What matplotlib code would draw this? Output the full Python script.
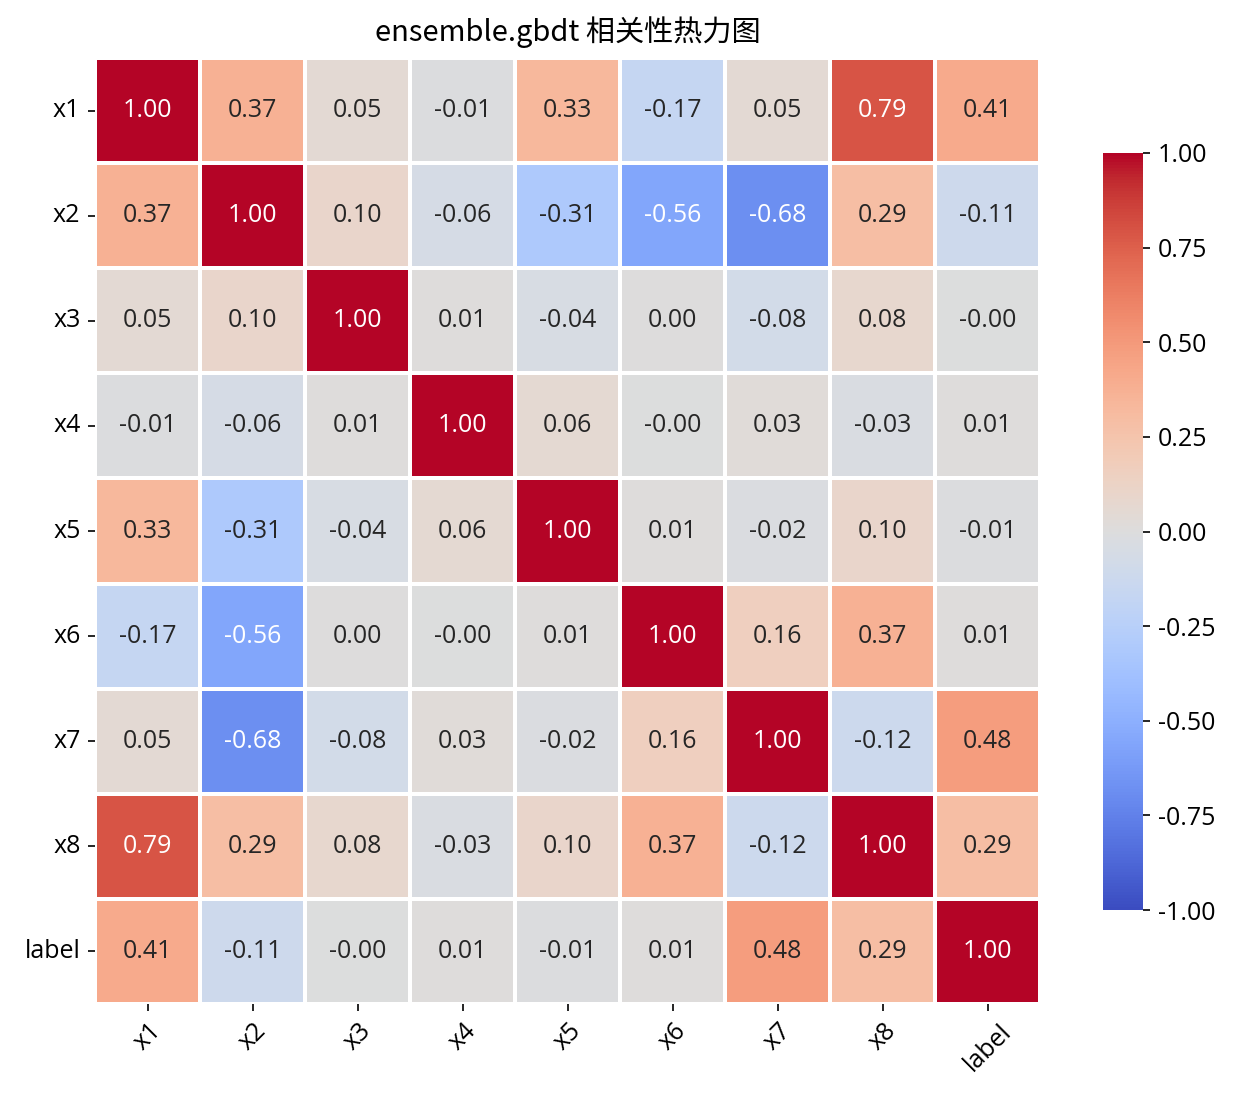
import numpy as np
import pandas as pd
import matplotlib
matplotlib.use("Agg")
import matplotlib.pyplot as plt
import seaborn as sns

labels = ["x1", "x2", "x3", "x4", "x5", "x6", "x7", "x8", "label"]

# upper triangle of the correlation matrix, row by row
row_x1 = [1.00, 0.37, 0.05, -0.01, 0.33, -0.17, 0.05, 0.79, 0.41]
row_x2 = [1.00, 0.10, -0.06, -0.31, -0.56, -0.68, 0.29, -0.11]
row_x3 = [1.00, 0.01, -0.04, 0.001, -0.08, 0.08, -0.001]
row_x4 = [1.00, 0.06, -0.001, 0.03, -0.03, 0.01]
row_x5 = [1.00, 0.01, -0.02, 0.10, -0.01]
row_x6 = [1.00, 0.16, 0.37, 0.01]
row_x7 = [1.00, -0.12, 0.48]
row_x8 = [1.00, 0.29]
row_label = [1.00]

rows = [row_x1, row_x2, row_x3, row_x4, row_x5, row_x6, row_x7, row_x8, row_label]
n = len(labels)
mat = np.zeros((n, n))
for i, r in enumerate(rows):
    mat[i, i:] = r
    mat[i:, i] = r
corr = pd.DataFrame(mat, index=labels, columns=labels)

plt.rcParams['font.family'] = ['Open Sans', 'Noto Sans CJK SC', 'DejaVu Sans']
plt.rcParams['axes.unicode_minus'] = False

fig = plt.figure(figsize=(8.25, 7.3), dpi=150)
ax = fig.add_axes([95/1237, 1-1004/1095, 945/1237, 946/1095])
cax = fig.add_axes([1103/1237, 1-910/1095, 40/1237, 757/1095])

sns.heatmap(corr, ax=ax, cbar_ax=cax, cmap="coolwarm", vmin=-1, vmax=1,
            annot=True, fmt=".2f", linewidths=1, linecolor="white",
            annot_kws={"size": 12})
ax.set_title("ensemble.gbdt 相关性热力图", fontsize=14, pad=8,
             family=['Noto Sans CJK SC', 'DejaVu Sans'])
ax.tick_params(labelsize=12)
plt.setp(ax.get_xticklabels(), rotation=45, ha="center")
plt.setp(ax.get_yticklabels(), rotation=0)
cax.tick_params(labelsize=12)

fig.savefig("out.png", dpi=150)
